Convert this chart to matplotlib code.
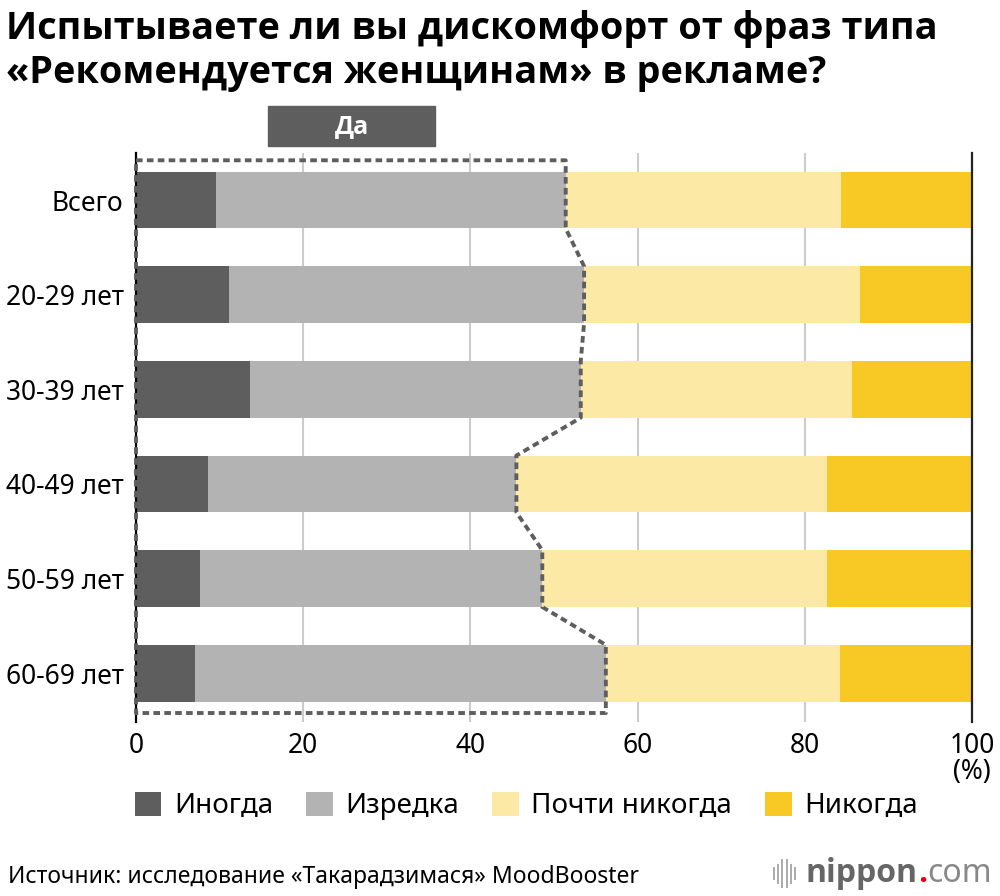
import matplotlib.pyplot as plt
import numpy as np

plt.rcParams['font.family'] = ['Noto Sans', 'DejaVu Sans']
BOLD = ['Open Sans', 'DejaVu Sans']

groups = ["Всего", "20-29 лет", "30-39 лет", "40-49 лет", "50-59 лет", "60-69 лет"]
inogda = np.array([9.6, 11.1, 13.6, 8.6, 7.7, 7.1])
izredka = np.array([41.8, 42.5, 39.6, 36.9, 40.9, 49.1])
pochti = np.array([32.9, 33.0, 32.4, 37.2, 34.1, 28.0])
nikogda = 100 - inogda - izredka - pochti
series = ["Иногда", "Изредка", "Почти никогда", "Никогда"]
colors = ["#5e5e5e", "#b3b3b3", "#fde9a6", "#f8c924"]

fig = plt.figure(figsize=(10, 8.96), dpi=100)
ax = fig.add_axes([0.136, 1 - 722 / 896, 0.836, (722 - 153) / 896])

y = np.arange(len(groups))
h = 0.6
left = np.zeros(len(groups))
bars = []
for vals, c, name in zip([inogda, izredka, pochti, nikogda], colors, series):
    b = ax.barh(y, vals, left=left, height=h, color=c, label=name, zorder=2)
    bars.append(b)
    left = left + vals

# dotted outline around the "yes" share
yes = inogda + izredka
ox = [0, yes[0], yes[0]]
oy = [-0.42, -0.42, h / 2]
for i in range(1, len(groups)):
    ox += [yes[i], yes[i]]
    oy += [i - h / 2, i + h / 2]
ox += [yes[-1], 0, 0]
oy += [len(groups) - 1 + 0.42, len(groups) - 1 + 0.42, -0.42]
ax.plot(ox, oy, color="#5e5e5e", lw=2.8, ls=(0, (1.7, 1.1)), zorder=4, clip_on=False)

ax.set_xlim(0, 100)
ax.set_ylim(5.515, -0.497)
ax.set_yticks(y)
ax.set_yticklabels(groups, fontsize=19)
ax.set_xticks([0, 20, 40, 60, 80, 100])
ax.tick_params(length=0, labelsize=19)
ax.tick_params(axis='x', pad=7)
ax.tick_params(axis='y', pad=9)
ax.grid(axis='x', color="#cccccc", lw=1.5, zorder=0)
for s in ["top", "bottom"]:
    ax.spines[s].set_visible(False)
ax.spines["left"].set_color("black")
ax.spines["left"].set_linewidth(1.6)
ax.spines["right"].set_color("#222222")
ax.spines["right"].set_linewidth(1.6)

fig.text(0.972, 1 - 772 / 896, "(%)", ha="center", va="center", fontsize=19)

# "Да" label box
ax.add_patch(plt.Rectangle((15.8, -0.995), 20.0, 0.425, color="#5e5e5e", clip_on=False, zorder=1))
ax.text(25.8, -0.78, "Да", ha="center", va="center", fontsize=18, fontweight="bold",
        family=BOLD, color="white", clip_on=False, zorder=3)

fig.text(0.006, 1 - 29 / 896, "Испытываете ли вы дискомфорт от фраз типа", fontsize=27.3,
         fontweight="bold", family=BOLD, va="center", ha="left")
fig.text(0.006, 1 - 73 / 896, "«Рекомендуется женщинам» в рекламе?", fontsize=27.3,
         fontweight="bold", family=BOLD, va="center", ha="left")

fig.legend(handles=bars, labels=series, ncol=4, loc="center left",
           bbox_to_anchor=(0.135, 1 - 806 / 896), frameon=False, fontsize=20,
           handlelength=0.95, handleheight=0.95, handletextpad=0.45, columnspacing=1.2,
           borderpad=0, borderaxespad=0)

fig.text(0.008, 1 - 877 / 896, "Источник: исследование «Такарадзимася» MoodBooster",
         fontsize=16.5, va="center", ha="left")

# nippon.com mark
for i, hh in enumerate([0.012, 0.02, 0.03, 0.03, 0.02, 0.012]):
    fig.add_artist(plt.Line2D([0.774 + i * 0.0042] * 2, [0.025 - hh / 2, 0.025 + hh / 2],
                              color="#aaaaaa", lw=1.4))
t1 = fig.text(0.806, 1 - 873 / 896, "nippon", fontsize=23, color="#666666", fontweight="bold",
              family=BOLD, va="center", ha="left")
fig.canvas.draw()
bb = t1.get_window_extent()
t2 = fig.text(bb.x1 / fig.bbox.width, 1 - 873 / 896, ".", fontsize=23, color="#e60012",
              fontweight="bold", family=BOLD, va="center", ha="left")
bb2 = t2.get_window_extent()
fig.text(bb2.x1 / fig.bbox.width, 1 - 873 / 896, "com", fontsize=23, color="#888888",
         va="center", ha="left")

fig.savefig("out.png", dpi=100)
